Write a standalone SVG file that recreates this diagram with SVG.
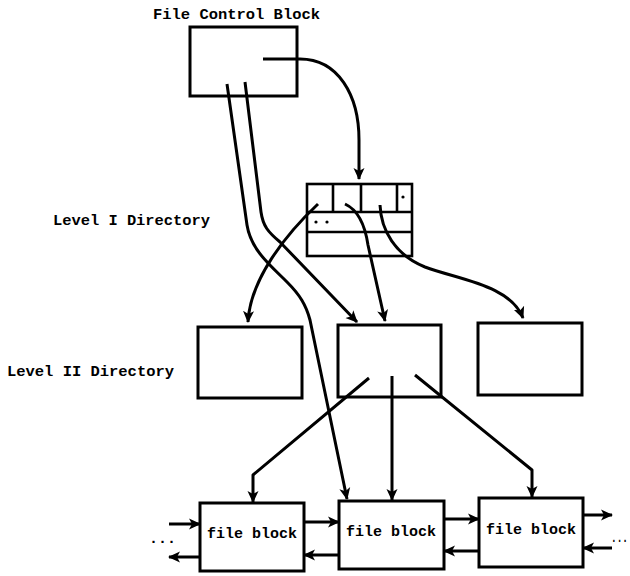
<svg xmlns="http://www.w3.org/2000/svg" width="630" height="576" viewBox="0 0 630 576">
<style>
.box{fill:none;stroke:#000;stroke-width:3}
.dir{fill:none;stroke:#000;stroke-width:2.6}
.c{fill:none;stroke:#000;stroke-width:3;stroke-linejoin:round;marker-end:url(#ah)}
.lbl{font-family:"Liberation Mono","Courier New",monospace;font-weight:bold;font-size:14px;fill:#000}
.fb{font-family:"Liberation Mono","Courier New",monospace;font-weight:bold;font-size:15px;fill:#000}
</style>
<defs>
<marker id="ah" viewBox="0 0 12 12" refX="11" refY="6" markerWidth="12" markerHeight="12" markerUnits="userSpaceOnUse" orient="auto">
<path d="M0,0.5 L12,6 L0,11.5 L3,6 z" fill="#000"/>
</marker>
</defs>
<rect width="630" height="576" fill="#fff"/>
<text class="lbl" x="153" y="19" textLength="167" lengthAdjust="spacingAndGlyphs">File Control Block</text>
<text class="lbl" x="53" y="225" textLength="157" lengthAdjust="spacingAndGlyphs">Level I Directory</text>
<text class="lbl" x="7" y="376" textLength="167" lengthAdjust="spacingAndGlyphs">Level II Directory</text>

<g id="fcb"><rect class="box" x="190" y="27" width="107" height="69"/></g>

<g id="dir1">
<rect class="dir" x="307" y="184" width="105" height="72"/>
<line class="dir" x1="307" y1="212" x2="412" y2="212"/>
<line class="dir" x1="307" y1="232" x2="412" y2="232"/>
<line class="dir" x1="333" y1="184" x2="333" y2="212"/>
<line class="dir" x1="361" y1="184" x2="361" y2="212"/>
<line class="dir" x1="397" y1="184" x2="397" y2="212"/>
<circle cx="403" cy="197" r="1.6"/>
<circle cx="316" cy="222" r="1.6"/>
<circle cx="327" cy="222" r="1.6"/>
</g>

<g id="dir2-left"><rect class="box" x="198" y="327" width="104" height="71"/></g>
<g id="dir2-mid"><rect class="box" x="338" y="325" width="103" height="72"/></g>
<g id="dir2-right"><rect class="box" x="478" y="323" width="104" height="72"/></g>

<g id="fb1"><rect class="box" x="200" y="503" width="104" height="68"/><text class="fb" x="252" y="538" text-anchor="middle">file block</text></g>
<g id="fb2"><rect class="box" x="339" y="501" width="105" height="68"/><text class="fb" x="391" y="536" text-anchor="middle">file block</text></g>
<g id="fb3"><rect class="box" x="479" y="498" width="104" height="69"/><text class="fb" x="531" y="534" text-anchor="middle">file block</text></g>

<text class="fb" x="149" y="543">...</text>
<text class="fb" x="611" y="542" textLength="17" lengthAdjust="spacingAndGlyphs">...</text>

<g id="connectors">
<path class="c" d="M263,59 H300 C338,59 359,95 359,140 V179"/>
<path class="c" d="M318,204 C285,235 250,280 248,322"/>
<path class="c" d="M345,204 C358,210 365,225 368,245 L385,321"/>
<path class="c" d="M380,205 C381,230 395,255 425,267 C460,280 510,285 523,318"/>
<path class="c" d="M227,84 L247,225 C251,250 270,265 287,282 C300,295 306,305 310,320 L347,499"/>
<path class="c" d="M245,82 L261,212 C263,226 268,232 280,242 L357,322"/>
<path class="c" d="M369,378 L253,475 V502"/>
<path class="c" d="M392,376 V500"/>
<path class="c" d="M415,375 L532,470 V497"/>
<path class="c" d="M169,524 H200"/>
<path class="c" d="M200,557 H169"/>
<path class="c" d="M304,522 H339"/>
<path class="c" d="M339,555 H304"/>
<path class="c" d="M444,519 H479"/>
<path class="c" d="M479,551 H444"/>
<path class="c" d="M583,515 H612"/>
<path class="c" d="M612,548 H583"/>
</g>
</svg>
